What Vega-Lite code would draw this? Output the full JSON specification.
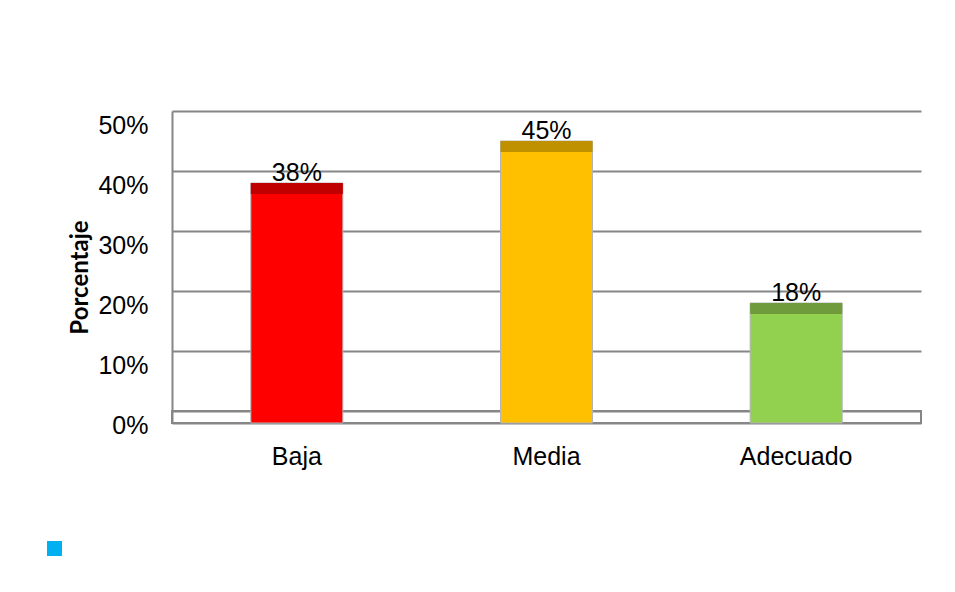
{
  "$schema": "https://vega.github.io/schema/vega-lite/v6.json",
  "width": 749,
  "height": 312,
  "autosize": {"type": "none"},
  "padding": {"left": 172, "top": 111, "right": 34, "bottom": 169},
  "background": "white",
  "config": {
    "view": {"stroke": null},
    "font": "Liberation Sans, Arial, sans-serif"
  },
  "data": {
    "values": [
      {"nivel": "Baja", "porcentaje": 0.38},
      {"nivel": "Media", "porcentaje": 0.45},
      {"nivel": "Adecuado", "porcentaje": 0.18}
    ]
  },
  "encoding": {
    "x": {
      "field": "nivel",
      "type": "nominal",
      "sort": ["Baja", "Media", "Adecuado"],
      "scale": {"paddingInner": 0.632, "paddingOuter": 0.316},
      "axis": {
        "title": null,
        "labelAngle": 0,
        "labelFont": "Liberation Sans, Arial, sans-serif",
        "labelFontSize": 25,
        "labelColor": "#000000",
        "labelPadding": 21,
        "ticks": false,
        "domainColor": "#868686",
        "domainWidth": 2,
        "grid": false
      }
    }
  },
  "layer": [
    {
      "mark": {"type": "rect", "fill": "white", "fillOpacity": 0, "stroke": "#868686", "strokeWidth": 2},
      "encoding": {
        "x": null,
        "y": {"datum": -0.02, "type": "quantitative", "scale": {"domain": [-0.02, 0.5]}},
        "y2": {"datum": 0}
      }
    },
    {
      "mark": {"type": "bar", "size": 92, "stroke": "#B4B4B4", "strokeWidth": 1},
      "encoding": {
        "y": {
          "field": "porcentaje",
          "type": "quantitative",
          "scale": {"domain": [-0.02, 0.5], "nice": false, "zero": false},
          "axis": {
            "values": [0, 0.1, 0.2, 0.3, 0.4, 0.5],
            "format": ".0%",
            "title": "Porcentaje",
            "titleFont": "Lato",
            "titleFontWeight": "bold",
            "titleFontSize": 24,
            "titleColor": "#000000",
            "titleX": -92,
            "titleY": 166,
            "titleAlign": "center",
            "titleBaseline": "middle",
            "titleAngle": -90,
            "labelFont": "Liberation Sans, Arial, sans-serif",
            "labelFontSize": 25,
            "labelColor": "#000000",
            "labelPadding": 24,
            "labelOffset": 14,
            "ticks": false,
            "domainColor": "#868686",
            "domainWidth": 2,
            "grid": true,
            "gridColor": "#868686",
            "gridWidth": 2,
            "gridOpacity": 1
          }
        },
        "y2": {"datum": -0.02},
        "color": {
          "field": "nivel",
          "type": "nominal",
          "scale": {"domain": ["Baja", "Media", "Adecuado"], "range": ["#FF0000", "#FFC000", "#92D050"]},
          "legend": null
        }
      }
    },
    {
      "mark": {"type": "tick", "orient": "horizontal", "size": 92, "thickness": 11, "yOffset": 5.5, "opacity": 1},
      "encoding": {
        "y": {"field": "porcentaje", "type": "quantitative"},
        "color": {
          "field": "nivel",
          "type": "nominal",
          "scale": {"domain": ["Baja", "Media", "Adecuado"], "range": ["#C00000", "#BF9000", "#6F9B3C"]},
          "legend": null
        }
      }
    },
    {
      "mark": {"type": "text", "baseline": "alphabetic", "dy": -2, "fontSize": 25, "font": "Liberation Sans, Arial, sans-serif", "color": "#000000"},
      "encoding": {
        "y": {"field": "porcentaje", "type": "quantitative"},
        "text": {"field": "porcentaje", "type": "quantitative", "format": ".0%"}
      }
    },
    {
      "mark": {"type": "bar", "opacity": 0},
      "encoding": {
        "y": {"field": "porcentaje", "type": "quantitative"},
        "y2": {"datum": -0.02},
        "color": {
          "datum": " ",
          "type": "nominal",
          "scale": {"range": ["#00B0F0"]},
          "legend": {
            "orient": "none",
            "legendX": -125,
            "legendY": 430,
            "symbolType": "square",
            "symbolSize": 225,
            "symbolOpacity": 1,
            "symbolStrokeWidth": 0,
            "labelFontSize": 1,
            "title": null,
            "padding": 0
          }
        }
      }
    }
  ],
  "resolve": {"scale": {"color": "independent"}}
}
